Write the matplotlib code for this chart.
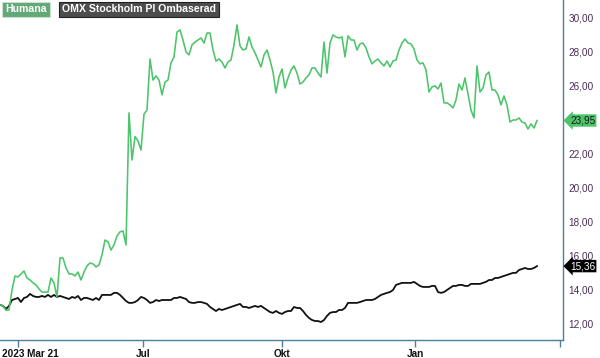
import numpy as np
import matplotlib
matplotlib.use("Agg")
import matplotlib.pyplot as plt
import matplotlib.transforms as mtransforms

plt.rcParams['font.family'] = ['Liberation Sans', 'DejaVu Sans']

humana = [
    13.07, 13.01, 12.75, 12.77, 13.95, 14.78, 14.72, 14.90, 15.07, 14.66,
    14.54, 14.37, 14.25, 14.01, 13.83, 13.83, 13.83, 14.66, 14.37, 13.54,
    15.84, 15.84, 15.25, 14.90, 14.90, 14.78, 15.01, 14.54, 15.01, 15.37,
    15.54, 15.49, 15.31, 15.43, 16.02, 16.90, 16.79, 16.31, 16.61, 17.14,
    17.38, 17.43, 16.61, 24.40, 21.62, 23.00, 22.75, 22.21, 24.33, 24.57,
    27.58, 26.34, 26.58, 26.34, 25.46, 26.22, 26.34, 27.35, 27.70, 29.17,
    29.29, 28.70, 28.00, 27.82, 28.41, 28.58, 28.70, 28.82, 28.52, 29.11,
    29.11, 28.11, 27.46, 27.58, 27.40, 27.05, 27.40, 27.52, 28.41, 29.59,
    28.35, 28.11, 28.17, 28.88, 28.29, 27.94, 27.52, 27.11, 27.82, 28.11,
    27.52, 26.81, 25.58, 26.52, 26.99, 25.87, 26.46, 26.93, 27.17, 26.75,
    26.10, 26.22, 26.46, 26.64, 27.05, 27.05, 26.75, 26.52, 28.58, 26.75,
    28.52, 29.00, 28.88, 28.82, 28.88, 27.70, 28.94, 28.70, 28.70, 28.11,
    28.47, 28.52, 28.23, 27.70, 27.29, 27.46, 27.58, 27.35, 27.17, 27.46,
    27.11, 27.46, 27.52, 28.11, 28.52, 28.76, 28.52, 28.47, 28.17, 27.52,
    27.29, 27.35, 26.93, 25.63, 25.93, 25.99, 25.81, 26.16, 24.99, 24.99,
    24.87, 24.69, 25.16, 26.10, 25.75, 26.46, 25.52, 24.57, 24.10, 27.17,
    25.63, 25.87, 26.64, 26.81, 25.75, 25.75, 25.46, 24.87, 25.40, 24.87,
    23.86, 23.98, 23.98, 24.10, 23.86, 23.80, 23.45, 23.75, 23.51, 23.95,
]

omx = [
    13.07, 13.01, 12.83, 13.01, 13.36, 13.42, 13.48, 13.24, 13.48, 13.54,
    13.72, 13.60, 13.54, 13.54, 13.60, 13.54, 13.66, 13.54, 13.66, 13.54,
    13.60, 13.54, 13.48, 13.42, 13.54, 13.48, 13.60, 13.36, 13.48, 13.48,
    13.42, 13.36, 13.48, 13.36, 13.66, 13.66, 13.66, 13.66, 13.78, 13.78,
    13.66, 13.48, 13.30, 13.19, 13.19, 13.24, 13.36, 13.54, 13.48, 13.36,
    13.19, 13.24, 13.36, 13.30, 13.36, 13.36, 13.36, 13.36, 13.48, 13.48,
    13.54, 13.48, 13.42, 13.24, 13.19, 13.19, 13.24, 13.24, 13.19, 13.13,
    12.95, 12.83, 12.71, 12.83, 12.77, 12.83, 12.89, 12.95, 13.01, 13.07,
    13.13, 12.95, 12.95, 12.89, 12.95, 13.01, 12.95, 13.01, 12.89, 12.77,
    12.65, 12.60, 12.71, 12.60, 12.54, 12.65, 12.71, 12.71, 12.95, 12.89,
    12.89, 12.71, 12.48, 12.30, 12.18, 12.12, 12.12, 12.06, 12.18, 12.42,
    12.60, 12.65, 12.65, 12.77, 12.77, 12.89, 13.19, 13.19, 13.19, 13.19,
    13.24, 13.30, 13.36, 13.36, 13.36, 13.42, 13.54, 13.66, 13.72, 13.78,
    13.83, 13.95, 14.25, 14.31, 14.37, 14.37, 14.37, 14.37, 14.43, 14.31,
    14.19, 14.13, 14.13, 14.13, 14.19, 14.19, 13.83, 13.78, 13.83, 13.95,
    14.07, 14.19, 14.19, 14.25, 14.25, 14.19, 14.19, 14.31, 14.31, 14.31,
    14.31, 14.37, 14.43, 14.54, 14.54, 14.66, 14.66, 14.72, 14.78, 14.84,
    14.90, 14.96, 14.96, 15.13, 15.19, 15.25, 15.19, 15.19, 15.25, 15.36,
]

series_names = ["Humana", "OMX Stockholm PI Ombaserad"]
x_tick_labels = ["2023 Mar 21", "Jul", "Okt", "Jan"]
y_ticks = [12, 14, 16, 18, 20, 22, 24, 26, 28, 30]

green = "#4cc46a"
axis_col = "#4f7fa0"
label_col = "#4a2d57"

fig = plt.figure(figsize=(6.0, 3.58), dpi=100)
ax = fig.add_axes([0.0, 18 / 358, 563 / 600, 340 / 358])

x = np.arange(len(humana))
ax.plot(x, omx, color="#111111", lw=1.3, zorder=3)
ax.plot(x, humana, color=green, lw=1.15, zorder=4)

ax.set_xlim(0, 563 / 3)
ax.set_ylim(11.0, 31.06)

for s in ["top", "left"]:
    ax.spines[s].set_visible(False)
ax.spines["bottom"].set_color(axis_col)
ax.spines["right"].set_color(axis_col)
ax.spines["bottom"].set_linewidth(1.0)
ax.spines["right"].set_linewidth(1.0)

tick_pos = [6, 143 / 3, 94, 415 / 3, 186.7]
ax.set_xticks(tick_pos)
ax.set_xticklabels(x_tick_labels + [""])
ax.tick_params(axis="x", direction="out", length=5, width=1, color=axis_col,
               labelsize=7.2, pad=1.5)
for lbl in ax.get_xticklabels():
    lbl.set_fontweight("bold")
    lbl.set_color("#111111")
lab0 = ax.get_xticklabels()[0]
lab0.set_horizontalalignment("left")
lab0.set_transform(lab0.get_transform() + mtransforms.ScaledTranslation(-16 / 100, 0, fig.dpi_scale_trans))

ax.yaxis.tick_right()
ax.set_yticks(y_ticks)
ax.set_yticklabels([f"{v:.2f}".replace(".", ",") for v in y_ticks])
ax.tick_params(axis="y", length=0, labelsize=7.2, pad=4, labelcolor=label_col)

# value badges
last_h = humana[-1]
last_o = omx[-1]
ax.annotate(f"{last_h:.2f}".replace(".", ","), xy=(1.0, last_h), xycoords=("axes fraction", "data"),
            xytext=(5, 0), textcoords="offset points", ha="left", va="center",
            fontsize=7.2, color="#1a1a1a",
            bbox=dict(boxstyle="larrow,pad=0.12", fc=green, ec="none"), annotation_clip=False, zorder=6)
ax.annotate(f"{last_o:.2f}".replace(".", ","), xy=(1.0, last_o), xycoords=("axes fraction", "data"),
            xytext=(5, 0), textcoords="offset points", ha="left", va="center",
            fontsize=7.2, color="white",
            bbox=dict(boxstyle="larrow,pad=0.12", fc="#000000", ec="none"), annotation_clip=False, zorder=6)

# legend boxes
fig.text(5 / 600, 1 - 9.5 / 358, series_names[0], ha="left", va="center", fontsize=7.6, fontweight="bold",
         color="white", bbox=dict(boxstyle="square,pad=0.28", fc="#63a877", ec="#c9e2cf", lw=0.8))
fig.text(62 / 600, 1 - 9.5 / 358, series_names[1], ha="left", va="center", fontsize=7.6, fontweight="bold",
         color="white", bbox=dict(boxstyle="square,pad=0.28", fc="#4d4d4d", ec="#222222", lw=0.8))

fig.savefig("out.png", dpi=100)
